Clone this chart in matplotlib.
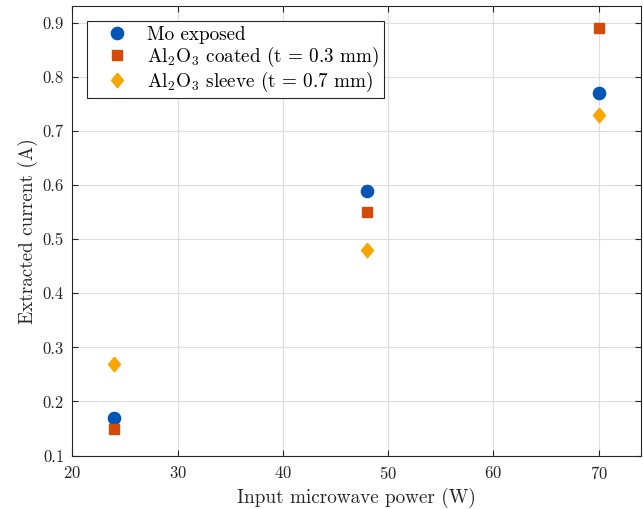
import numpy as np
import matplotlib
matplotlib.use("Agg")
import matplotlib.pyplot as plt

plt.rcParams['font.family'] = 'cmr10'
plt.rcParams['mathtext.fontset'] = 'cm'
plt.rcParams['axes.unicode_minus'] = False
plt.rcParams['axes.formatter.use_mathtext'] = True

power = np.array([24, 48, 70])
mo_exposed = np.array([0.17, 0.59, 0.77])
al_coated = np.array([0.15, 0.55, 0.89])
al_sleeve = np.array([0.27, 0.48, 0.73])

labels = ['Mo exposed',
          r'Al$_2$O$_3$ coated (t = 0.3 mm)',
          r'Al$_2$O$_3$ sleeve (t = 0.7 mm)']

# wider diamond than the built-in 'd'
diamond = [(0, 1), (0.82, 0), (0, -1), (-0.82, 0), (0, 1)]

fig = plt.figure(figsize=(6.43, 5.09), dpi=100)
ax = fig.add_axes([0.1125, 0.105, 0.884, 0.883])

ax.plot(power, mo_exposed, 'o', color='#0055B5', markersize=8.8, label=labels[0])
ax.plot(power, al_coated, 's', color='#D44A0A', markersize=7.3, label=labels[1])
ax.plot(power, al_sleeve, marker=diamond, linestyle='none', color='#F9A602',
        markersize=10.5, label=labels[2])

ax.set_xlim(20, 74)
ax.set_ylim(0.1, 0.931)
ax.set_xticks([20, 30, 40, 50, 60, 70])
ax.set_yticks(np.arange(0.1, 0.91, 0.1))
ax.set_yticklabels(['%.1f' % v for v in np.arange(0.1, 0.91, 0.1)])

ax.grid(True, color='#dedede', linewidth=0.8)
ax.set_axisbelow(True)
for s in ax.spines.values():
    s.set_color('#262626')
    s.set_linewidth(0.8)
ax.tick_params(direction='in', top=True, right=True, length=4,
               color='#262626', labelsize=12, labelcolor='#262626')
ax.tick_params(axis='x', pad=7)
ax.tick_params(axis='y', pad=6)

ax.set_xlabel('Input microwave power (W)', fontsize=13.8, color='#262626', labelpad=4)
ax.set_ylabel('Extracted current (A)', fontsize=13.8, color='#262626', labelpad=3)

leg = ax.legend(loc='upper left', bbox_to_anchor=(0.026, 0.967), borderaxespad=0,
                fontsize=13.8, fancybox=False, edgecolor='#262626', framealpha=1,
                handletextpad=0.3, borderpad=0.25, labelspacing=0.04,
                handlelength=2.6)
leg.get_frame().set_linewidth(0.8)

fig.savefig('out.png', dpi=100)
